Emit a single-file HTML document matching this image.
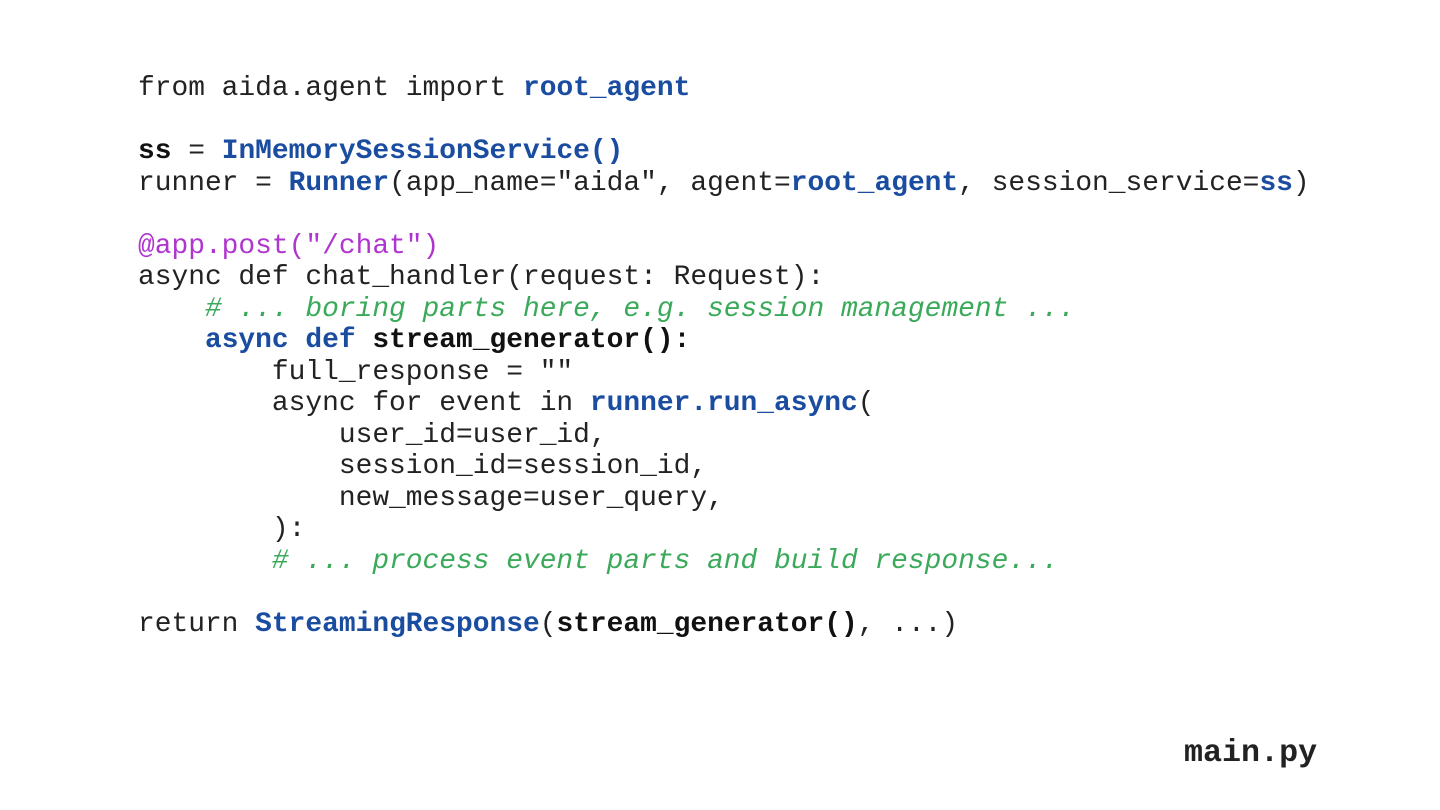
<!DOCTYPE html>
<html><head><meta charset="utf-8"><style>
html,body{margin:0;padding:0;background:#fff;width:1440px;height:810px;overflow:hidden;position:relative}
pre{position:absolute;left:138px;top:73px;margin:0;font-family:"Liberation Mono",monospace;font-size:27.9px;line-height:31.5px;color:#222;}
.b{color:#1a4ca0;font-weight:bold}
.k{color:#111;font-weight:bold}
.p{color:#b035d0}
.g{color:#3aaa5a;font-style:italic}
.f{position:absolute;left:1184px;top:735px;font-family:"Liberation Mono",monospace;font-weight:bold;font-size:31.7px;color:#222}
</style></head><body>
<pre>from aida.agent import <span class="b">root_agent</span>

<span class="k">ss</span> = <span class="b">InMemorySessionService()</span>
runner = <span class="b">Runner</span>(app_name="aida", agent=<span class="b">root_agent</span>, session_service=<span class="b">ss</span>)

<span class="p">@app.post("/chat")</span>
async def chat_handler(request: Request):
    <span class="g"># ... boring parts here, e.g. session management ...</span>
    <span class="b">async def</span> <span class="k">stream_generator():</span>
        full_response = ""
        async for event in <span class="b">runner.run_async</span>(
            user_id=user_id,
            session_id=session_id,
            new_message=user_query,
        ):
        <span class="g"># ... process event parts and build response...</span>

return <span class="b">StreamingResponse</span>(<span class="k">stream_generator()</span>, ...)</pre>
<div class="f">main.py</div>
</body></html>
